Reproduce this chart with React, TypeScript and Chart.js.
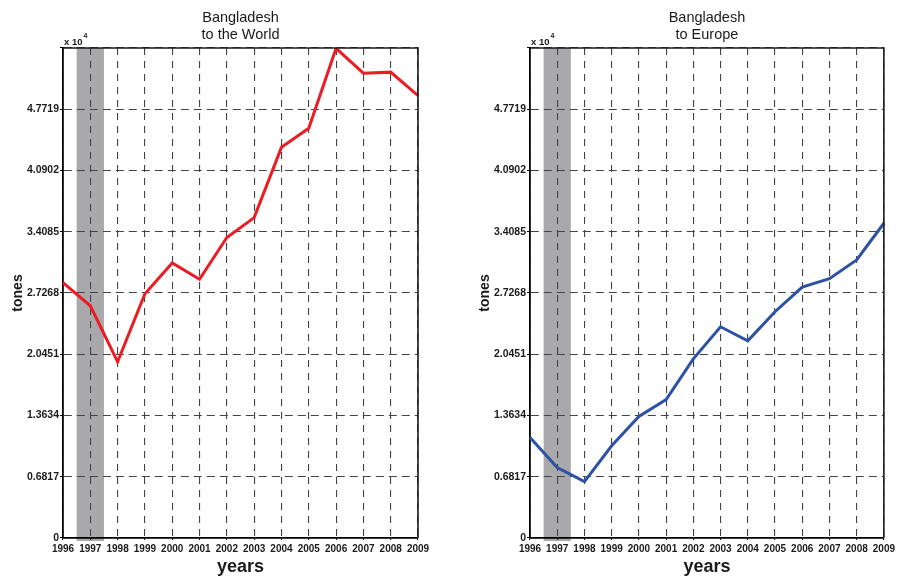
import React, { useEffect, useRef } from 'react';
import { Chart, registerables } from 'chart.js';

Chart.register(...registerables);

// Export volumes, in units of 10^4 tones
const YEARS = ['1996', '1997', '1998', '1999', '2000', '2001', '2002', '2003', '2004', '2005', '2006', '2007', '2008', '2009'];
const WORLD_TONES = [2.842, 2.585, 1.96, 2.718, 3.062, 2.879, 3.345, 3.566, 4.348, 4.56, 5.45, 5.173, 5.185, 4.924];
const EUROPE_TONES = [1.119, 0.784, 0.628, 1.026, 1.353, 1.54, 1.994, 2.351, 2.194, 2.518, 2.793, 2.886, 3.094, 3.503];

const Y_TICKS = [0, 0.6817, 1.3634, 2.0451, 2.7268, 3.4085, 4.0902, 4.7719, 5.4536];
const Y_TICK_LABELS = ['0', '0.6817', '1.3634', '2.0451', '2.7268', '3.4085', '4.0902', '4.7719', ''];
const Y_MAX = 5.4536;

const SHADED_YEAR = '1997';

const FONT = "'Liberation Sans', Arial, sans-serif";
const GRID_COLOR = '#444444';

function decorPlugin(titleLines: string[]) {
  return {
    id: 'panelDecor',
    beforeDraw(chart: any) {
      const { ctx, chartArea, scales } = chart;
      const x = scales.x;
      const i = YEARS.indexOf(SHADED_YEAR);
      const x0 = x.getPixelForValue(i - 0.5);
      const x1 = x.getPixelForValue(i + 0.5);
      ctx.save();
      ctx.fillStyle = '#a9a9ac';
      ctx.fillRect(x0, chartArea.top, x1 - x0, chartArea.bottom - chartArea.top + 3);
      ctx.restore();
    },
    afterDatasetsDraw(chart: any) {
      const { ctx, chartArea } = chart;
      ctx.save();
      ctx.strokeStyle = '#1a1a1a';
      ctx.lineWidth = 1.6;
      ctx.beginPath();
      ctx.moveTo(chartArea.left, chartArea.top);
      ctx.lineTo(chartArea.right, chartArea.top);
      ctx.lineTo(chartArea.right, chartArea.bottom);
      ctx.stroke();
      ctx.restore();
    },
    afterDraw(chart: any) {
      const { ctx, chartArea } = chart;
      const cx = (chartArea.left + chartArea.right) / 2;
      ctx.save();
      ctx.fillStyle = '#1a1a1a';
      ctx.textAlign = 'center';
      ctx.textBaseline = 'alphabetic';
      ctx.font = `14.5px ${FONT}`;
      titleLines.forEach((line, k) => ctx.fillText(line, cx, 22 + k * 17));
      // exponent marker above the value axis
      ctx.textAlign = 'left';
      ctx.font = `bold 9.5px ${FONT}`;
      ctx.fillText('x 10', chartArea.left + 1, 45);
      const w = ctx.measureText('x 10').width;
      ctx.font = `bold 7px ${FONT}`;
      ctx.fillText('4', chartArea.left + 2 + w, 38);
      ctx.restore();
    },
  };
}

type PanelProps = {
  titleLines: string[];
  values: number[];
  color: string;
  left: number;
  padLeft: number;
  padRight: number;
};

function Panel({ titleLines, values, color, left, padLeft, padRight }: PanelProps) {
  const ref = useRef<HTMLCanvasElement>(null);

  useEffect(() => {
    const chart = new Chart(ref.current as HTMLCanvasElement, {
      type: 'line',
      data: {
        labels: YEARS,
        datasets: [
          {
            data: values,
            borderColor: color,
            borderWidth: 3,
            pointRadius: 0,
            tension: 0,
            fill: false,
          },
        ],
      },
      options: {
        responsive: false,
        animation: false,
        layout: { padding: { left: padLeft, right: padRight, top: 48, bottom: 0 } },
        plugins: {
          legend: { display: false },
          tooltip: { enabled: false },
          title: { display: false },
        },
        scales: {
          x: {
            type: 'category',
            offset: false,
            afterFit: (s: any) => {
              s.height = 40;
            },
            grid: {
              color: GRID_COLOR,
              lineWidth: 1.1,
              drawTicks: true,
              tickLength: 2,
              tickColor: '#000',
              tickBorderDash: [],
            },
            border: { display: true, color: '#000', width: 1.8, dash: [7, 6] },
            ticks: {
              autoSkip: false,
              maxRotation: 0,
              minRotation: 0,
              padding: 3,
              color: '#1a1a1a',
              font: { family: FONT, size: 10, weight: 'bold' },
            },
            title: {
              display: true,
              text: 'years',
              color: '#1a1a1a',
              font: { family: FONT, size: 18, weight: 'bold' },
              padding: { top: 0, bottom: 0 },
            },
          },
          y: {
            type: 'linear',
            min: 0,
            max: Y_MAX,
            afterFit: (s: any) => {
              s.width = 63;
            },
            afterBuildTicks: (s: any) => {
              s.ticks = Y_TICKS.map((v) => ({ value: v }));
            },
            grid: {
              color: GRID_COLOR,
              lineWidth: 1.1,
              drawTicks: true,
              tickLength: 3,
              tickColor: '#000',
              tickBorderDash: [],
            },
            border: { display: true, color: '#000', width: 1.8, dash: [8, 5] },
            ticks: {
              autoSkip: false,
              padding: 1,
              color: '#1a1a1a',
              font: { family: FONT, size: 10.5, weight: 'bold' },
              callback: (_v: any, i: number) => Y_TICK_LABELS[i],
            },
            title: {
              display: true,
              text: 'tones',
              color: '#1a1a1a',
              font: { family: FONT, size: 14, weight: 'bold' },
              padding: { top: 10, bottom: 0 },
            },
          },
        },
      },
      plugins: [decorPlugin(titleLines)],
    } as any);
    return () => chart.destroy();
  }, []);

  return (
    <canvas
      ref={ref}
      width={449}
      height={578}
      style={{ position: 'absolute', left, top: 0, width: 449, height: 578 }}
    />
  );
}

export default function App() {
  return (
    <div style={{ position: 'fixed', left: 0, top: 0, width: 898, height: 578, background: '#fff' }}>
      <Panel titleLines={['Bangladesh', 'to the World']} values={WORLD_TONES} color="#ec1c24" left={0} padLeft={0} padRight={31} />
      <Panel titleLines={['Bangladesh', 'to Europe']} values={EUROPE_TONES} color="#2e52a3" left={449} padLeft={18} padRight={12} />
    </div>
  );
}
